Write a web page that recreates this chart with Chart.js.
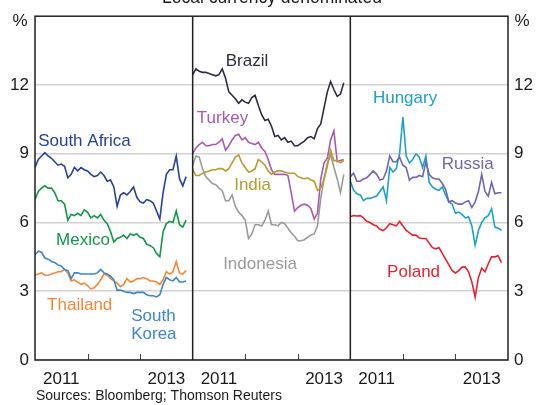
<!DOCTYPE html>
<html>
<head>
<meta charset="utf-8">
<script src="https://cdn.jsdelivr.net/npm/chart.js@4.4.0/dist/chart.umd.min.js"></script>
<style>
  html, body { margin: 0; padding: 0; background: #fff; }
</style>
</head>
<body>
<canvas id="chart" width="544" height="405"></canvas>
<script>
// Local currency bond yields, %, three panels 2011 - late 2013
// one point every 1/16 of a year from Jan 2011
const STEP = 1 / 16;

const southAfrica = [8.4,8.75,8.9,9.05,8.9,8.8,8.65,8.5,8.55,8.45,7.95,8.1,8.4,8.25,8.4,8.3,8.25,8.1,8.0,8.05,8.2,8.05,7.8,7.85,7.55,6.7,7.2,7.3,7.2,7.35,7.55,7.1,6.9,6.85,7.0,6.95,6.85,6.5,6.15,7.3,8.1,8.3,8.3,8.9,7.9,7.6,8.0];
const mexico = [7.0,7.35,7.5,7.6,7.5,7.5,7.3,6.95,6.95,6.8,6.1,6.35,6.3,6.4,6.3,6.55,6.45,6.2,6.3,6.2,6.35,6.1,5.95,5.6,5.15,5.3,5.35,5.45,5.3,5.5,5.45,5.5,5.35,5.3,5.05,5.0,4.9,4.65,4.5,5.6,5.95,6.05,6.0,6.5,5.9,5.8,6.1];
const thailand = [3.7,3.75,3.8,3.7,3.7,3.75,3.8,3.85,3.85,3.95,3.8,3.45,3.5,3.4,3.3,3.35,3.25,3.1,3.15,3.3,3.5,3.75,3.7,3.55,3.45,3.35,3.2,3.3,3.55,3.4,3.45,3.55,3.55,3.6,3.55,3.45,3.45,3.4,3.3,3.5,3.85,3.75,3.85,4.3,3.8,3.75,3.9];
const southKorea = [4.6,4.75,4.7,4.45,4.4,4.3,4.25,4.15,4.1,3.95,3.9,3.55,3.8,3.8,3.75,3.75,3.75,3.75,3.75,3.8,3.95,3.8,3.75,3.65,3.5,3.05,3.05,3.0,2.95,2.95,2.9,2.95,2.95,2.95,2.85,2.8,2.8,2.75,2.85,3.3,3.6,3.5,3.45,3.6,3.4,3.4,3.45];

const brazil = [12.45,12.7,12.6,12.55,12.55,12.5,12.45,12.4,12.45,12.7,12.3,11.7,11.55,11.4,11.2,11.35,11.25,11.2,11.45,11.55,11.1,10.7,10.45,10.5,10.2,9.75,9.8,9.6,9.7,9.5,9.55,9.35,9.35,9.45,9.55,9.7,9.75,9.65,10.1,10.3,11.0,11.7,12.15,11.8,11.5,11.6,12.1];
const turkey = [9.0,9.25,9.4,9.5,9.35,9.35,9.4,9.4,9.5,9.65,9.15,9.35,9.6,9.8,9.85,9.6,9.7,9.5,9.45,9.4,9.5,9.25,9.1,8.75,8.3,8.1,8.1,8.1,8.1,8.05,7.3,6.5,6.65,6.75,6.8,6.75,6.6,6.15,6.4,7.9,8.6,8.8,9.6,10.0,8.65,8.7,8.75];
const india = [8.3,8.05,8.05,8.15,8.2,8.25,8.3,8.3,8.35,8.35,8.25,8.35,8.6,8.85,8.95,8.6,8.4,8.2,8.25,8.35,8.75,8.65,8.5,8.25,8.1,8.2,8.25,8.25,8.2,8.15,8.15,8.15,8.0,7.95,7.9,7.95,7.85,7.8,7.4,7.5,7.9,8.45,9.15,8.7,8.7,8.6,8.7];
const indonesia = [8.5,8.9,8.85,8.35,8.0,7.85,7.7,7.65,7.5,7.4,6.95,6.95,7.2,6.7,6.45,6.3,6.1,5.3,5.5,5.9,5.9,5.85,6.1,6.5,5.9,5.9,5.85,6.0,5.95,5.75,5.55,5.4,5.2,5.2,5.25,5.35,5.45,5.5,5.85,7.05,7.9,8.6,8.95,8.4,7.9,7.3,8.1];

const hungary = [7.8,7.4,7.25,7.2,6.95,7.05,7.05,7.1,7.15,7.35,7.55,6.95,8.4,8.2,8.35,9.0,10.6,8.9,8.6,8.75,9.0,8.85,8.4,8.9,7.75,7.55,7.45,7.4,7.55,7.2,6.9,6.8,6.4,6.45,6.35,6.2,6.25,5.85,5.0,5.65,6.0,6.2,6.3,6.6,5.8,5.75,5.65];
const russia = [8.0,8.15,7.8,7.8,7.9,7.95,8.1,8.25,8.1,7.85,7.9,8.25,8.9,8.65,8.65,8.85,8.5,8.4,7.85,7.97,7.97,8.05,8.0,8.65,8.1,7.95,7.9,7.9,7.7,7.45,6.9,6.95,6.85,6.8,6.8,6.9,6.95,6.65,6.9,7.35,8.1,7.35,7.15,7.75,7.25,7.3,7.3];
const poland = [6.25,6.3,6.28,6.3,6.2,6.05,6.0,5.9,5.85,5.7,5.65,5.77,5.95,5.9,5.85,6.05,5.85,5.65,5.55,5.45,5.45,5.32,5.3,5.3,5.1,4.9,4.85,4.9,4.65,4.4,4.15,3.9,3.8,3.9,4.05,4.05,3.85,3.4,2.75,3.6,4.0,3.85,4.2,4.5,4.5,4.55,4.25];

const yTicks = [0, 3, 6, 9, 12];
const yearLabels = ['2011', '2013'];
const yearLabelPos = [0.5, 2.5];   // mid-year, within each panel
const yearBounds = [1, 2];         // year boundaries inside a panel
const PANEL_YEARS = 3;

const FONT = "'Liberation Sans', Arial, Helvetica, sans-serif";

// [name, values, panel, colour, label x, label y (data units)]
const series = [
  ['South Africa', southAfrica, 0, '#26439b', 0.06, 9.35],
  ['Mexico', mexico, 0, '#12984a', 0.40, 5.0],
  ['South Korea', southKorea, 0, '#3d86c9', 1.83, 1.72],
  ['Thailand', thailand, 0, '#f5863a', 0.23, 2.2],
  ['India', india, 1, '#b99b2e', 3.79, 7.41],
  ['Turkey', turkey, 1, '#a95aaf', 3.08, 10.34],
  ['Brazil', brazil, 1, '#2c2c45', 3.63, 12.84],
  ['Indonesia', indonesia, 1, '#9b9b9b', 3.58, 3.97],
  ['Russia', russia, 2, '#6f67b1', 7.74, 8.32],
  ['Hungary', hungary, 2, '#1ca1c8', 6.43, 11.2],
  ['Poland', poland, 2, '#e8222c', 6.70, 3.62]
];

const datasets = series.map(([name, vals, panel, colour]) => ({
  label: name,
  data: vals.map((v, i) => ({ x: panel * PANEL_YEARS + i * STEP, y: v })),
  borderColor: colour,
  borderWidth: 1.6,
  pointRadius: 0,
  tension: 0
}));

const xTickValues = [];
const xTickText = {};
for (let p = 0; p < 3; p++) {
  yearLabelPos.forEach((v, k) => {
    xTickValues.push(p * PANEL_YEARS + v);
    xTickText[p * PANEL_YEARS + v] = yearLabels[k];
  });
}

const decor = {
  id: 'decor',
  afterDraw(chart) {
    const { ctx, chartArea: a, scales } = chart;
    const x = scales.x, y = scales.y;
    ctx.save();

    // year tick marks along the bottom
    ctx.strokeStyle = '#444';
    ctx.lineWidth = 1;
    for (let p = 0; p < 3; p++) {
      yearBounds.forEach(v => {
        const px = Math.round(x.getPixelForValue(p * PANEL_YEARS + v)) + 0.5;
        ctx.beginPath();
        ctx.moveTo(px, a.bottom);
        ctx.lineTo(px, a.bottom - 6);
        ctx.stroke();
      });
    }

    // frame and panel dividers
    ctx.strokeStyle = '#231f20';
    ctx.lineWidth = 1.5;
    ctx.strokeRect(a.left, a.top, a.right - a.left, a.bottom - a.top);
    [1, 2].forEach(p => {
      const px = x.getPixelForValue(p * PANEL_YEARS);
      ctx.beginPath();
      ctx.moveTo(px, a.top);
      ctx.lineTo(px, a.bottom);
      ctx.stroke();
    });

    // series labels
    ctx.font = '17px ' + FONT;
    ctx.textAlign = 'left';
    ctx.textBaseline = 'alphabetic';
    series.forEach(([name, , , colour, lx, ly]) => {
      ctx.fillStyle = colour;
      if (name === 'South Korea') {
        ctx.fillText('South', x.getPixelForValue(lx), y.getPixelForValue(ly));
        ctx.fillText('Korea', x.getPixelForValue(lx), y.getPixelForValue(ly - 0.82));
      } else {
        ctx.fillText(name, x.getPixelForValue(lx), y.getPixelForValue(ly));
      }
    });

    // units
    ctx.fillStyle = '#1a1a1a';
    ctx.textAlign = 'center';
    ctx.textBaseline = 'middle';
    ctx.fillText('%', 20, 21);
    ctx.fillText('%', 522, 21);

    // title (cut at the top edge)
    ctx.textBaseline = 'alphabetic';
    ctx.font = '17.5px ' + FONT;
    ctx.fillText('Local currency denominated', 272, 3);

    // source note
    ctx.textAlign = 'left';
    ctx.font = '14px ' + FONT;
    ctx.fillText('Sources: Bloomberg; Thomson Reuters', 36, 400);
    ctx.restore();
  }
};

const tickFont = { family: FONT, size: 17 };

new Chart(document.getElementById('chart').getContext('2d'), {
  type: 'line',
  data: { datasets },
  options: {
    responsive: false,
    animation: false,
    layout: { padding: { top: 12 } },
    plugins: { legend: { display: false }, tooltip: { enabled: false } },
    scales: {
      x: {
        type: 'linear',
        min: 0,
        max: 9,
        afterBuildTicks: s => { s.ticks = xTickValues.map(v => ({ value: v })); },
        afterFit: s => { s.height = 45; },
        grid: { display: false, drawTicks: false },
        border: { display: false },
        ticks: {
          autoSkip: false,
          maxRotation: 0,
          padding: 9,
          color: '#1a1a1a',
          font: tickFont,
          callback: v => xTickText[v] || ''
        }
      },
      y: {
        position: 'left',
        min: 0,
        max: 15,
        afterBuildTicks: s => { s.ticks = yTicks.map(v => ({ value: v })); },
        afterFit: s => { s.width = 35; },
        grid: { color: '#d2d2d2', lineWidth: 1.5, drawTicks: false },
        border: { display: false },
        ticks: { padding: 6, color: '#1a1a1a', font: tickFont }
      },
      y2: {
        position: 'right',
        min: 0,
        max: 15,
        afterBuildTicks: s => { s.ticks = yTicks.map(v => ({ value: v })); },
        afterFit: s => { s.width = 36; },
        grid: { display: false, drawTicks: false },
        border: { display: false },
        ticks: { padding: 6, color: '#1a1a1a', font: tickFont }
      }
    }
  },
  plugins: [decor]
});
</script>
</body>
</html>
